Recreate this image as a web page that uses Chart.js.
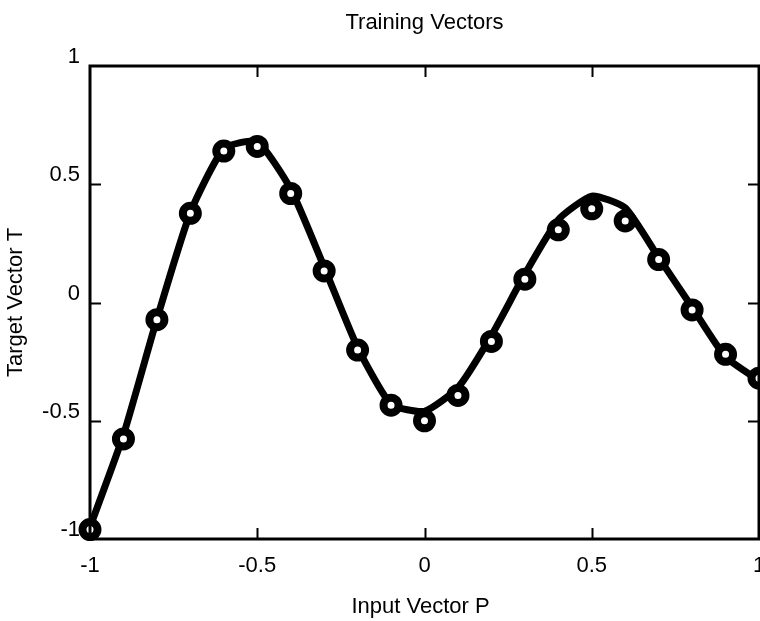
<!DOCTYPE html>
<html>
<head>
<meta charset="utf-8">
<title>Training Vectors</title>
<script src="https://cdn.jsdelivr.net/npm/chart.js@4/dist/chart.umd.min.js"></script>
<style>
  html, body { margin: 0; padding: 0; background: #fff; }
  #grafica { display: block; }
</style>
</head>
<body>
<canvas id="grafica" width="760" height="621"></canvas>
<script>
// entradas P = -1:0.1:1
const entradas = [-1, -0.9, -0.8, -0.7, -0.6, -0.5, -0.4, -0.3, -0.2, -0.1, 0,
                  0.1, 0.2, 0.3, 0.4, 0.5, 0.6, 0.7, 0.8, 0.9, 1];
// objetivos T (circulos)
const objetivos = [-0.9602, -0.5770, -0.0729, 0.3771, 0.6405, 0.6600, 0.4609, 0.1336,
                   -0.2013, -0.4344, -0.5000, -0.3930, -0.1647, 0.0988, 0.3072, 0.3960,
                   0.3449, 0.1816, -0.0312, -0.2189, -0.3201];
// curva continua
const curva = [-0.95, -0.56, -0.07, 0.38, 0.65, 0.68, 0.48, 0.15, -0.19, -0.43, -0.46,
               -0.36, -0.14, 0.12, 0.35, 0.45, 0.40, 0.19, -0.02, -0.23, -0.33];
const ticksX = [-1, -0.5, 0, 0.5, 1];
const ticksY = [-1, -0.5, 0, 0.5, 1];

const titulo = "Training Vectors";
const etiquetaX = "Input Vector P";
const etiquetaY = "Target Vector T";

const fuente = "'Liberation Sans', Arial, sans-serif";

// marco, marcas hacia dentro y textos
const marcoPlugin = {
    id: "marco",
    afterDatasetsDraw(chart) {
        const { ctx, chartArea: a, scales: { x, y } } = chart;
        ctx.save();
        ctx.strokeStyle = "#000";
        ctx.lineWidth = 2;
        ctx.beginPath();
        ticksX.slice(1, -1).forEach(v => {
            const px = Math.round(x.getPixelForValue(v)) + 0.5;
            ctx.moveTo(px, a.top); ctx.lineTo(px, a.top + 11);
            ctx.moveTo(px, a.bottom); ctx.lineTo(px, a.bottom - 11);
        });
        ticksY.slice(1, -1).forEach(v => {
            const py = Math.round(y.getPixelForValue(v)) + 0.5;
            ctx.moveTo(a.left, py); ctx.lineTo(a.left + 11, py);
            ctx.moveTo(a.right, py); ctx.lineTo(a.right - 11, py);
        });
        ctx.stroke();
        ctx.lineWidth = 3;
        ctx.strokeRect(a.left, a.top, a.right - a.left, a.bottom - a.top);
        ctx.restore();
    },
    afterDraw(chart) {
        const { ctx, chartArea: a } = chart;
        const cx = (a.left + a.right) / 2;
        ctx.save();
        ctx.fillStyle = "#000";
        ctx.font = "22px " + fuente;
        ctx.textAlign = "center";
        ctx.textBaseline = "middle";
        ctx.fillText(titulo, cx, 23);
        ctx.fillText(etiquetaX, cx - 4, 607);
        ctx.translate(16, (a.top + a.bottom) / 2);
        ctx.rotate(-Math.PI / 2);
        ctx.fillText(etiquetaY, 0, 0);
        ctx.restore();
    }
};

function fijarEje(tam, vertical) {
    return scale => {
        if (vertical) scale.width = tam; else scale.height = tam;
        scale.paddingLeft = 0;
        scale.paddingRight = 0;
        scale.paddingTop = 0;
        scale.paddingBottom = 0;
    };
}

new Chart(document.getElementById("grafica"), {
    data: {
        datasets: [{
            type: "line",
            data: entradas.map((p, i) => ({ x: p, y: curva[i] })),
            borderColor: "#000",
            borderWidth: 7,
            borderJoinStyle: "round",
            borderCapStyle: "round",
            tension: 0.18,
            pointRadius: 0,
            clip: false,
            order: 2
        }, {
            type: "scatter",
            data: entradas.map((p, i) => ({ x: p, y: objetivos[i] })),
            showLine: false,
            pointRadius: 7.5,
            pointBorderWidth: 8,
            pointBorderColor: "#000",
            pointBackgroundColor: "#fff",
            clip: false,
            order: 1
        }]
    },
    options: {
        responsive: false,
        animation: false,
        layout: { autoPadding: false, padding: { top: 66, right: 1, left: 0, bottom: 0 } },
        plugins: {
            legend: { display: false },
            tooltip: { enabled: false },
            title: { display: false }
        },
        scales: {
            x: {
                type: "linear",
                min: -1, max: 1,
                afterFit: fijarEje(82, false),
                grid: { display: false, drawTicks: false },
                border: { display: false },
                afterBuildTicks: s => { s.ticks = ticksX.map(v => ({ value: v })); },
                ticks: {
                    color: "#000",
                    padding: 14,
                    maxRotation: 0,
                    callback: v => String(v),
                    font: { family: fuente, size: 22 }
                }
            },
            y: {
                type: "linear",
                min: -1, max: 1,
                afterFit: fijarEje(90, true),
                grid: { display: false, drawTicks: false },
                border: { display: false },
                afterBuildTicks: s => { s.ticks = ticksY.map(v => ({ value: v })); },
                ticks: {
                    color: "#000",
                    padding: 10,
                    labelOffset: -9,
                    callback: v => String(v),
                    font: { family: fuente, size: 22 }
                }
            }
        }
    },
    plugins: [marcoPlugin]
});
</script>
</body>
</html>
